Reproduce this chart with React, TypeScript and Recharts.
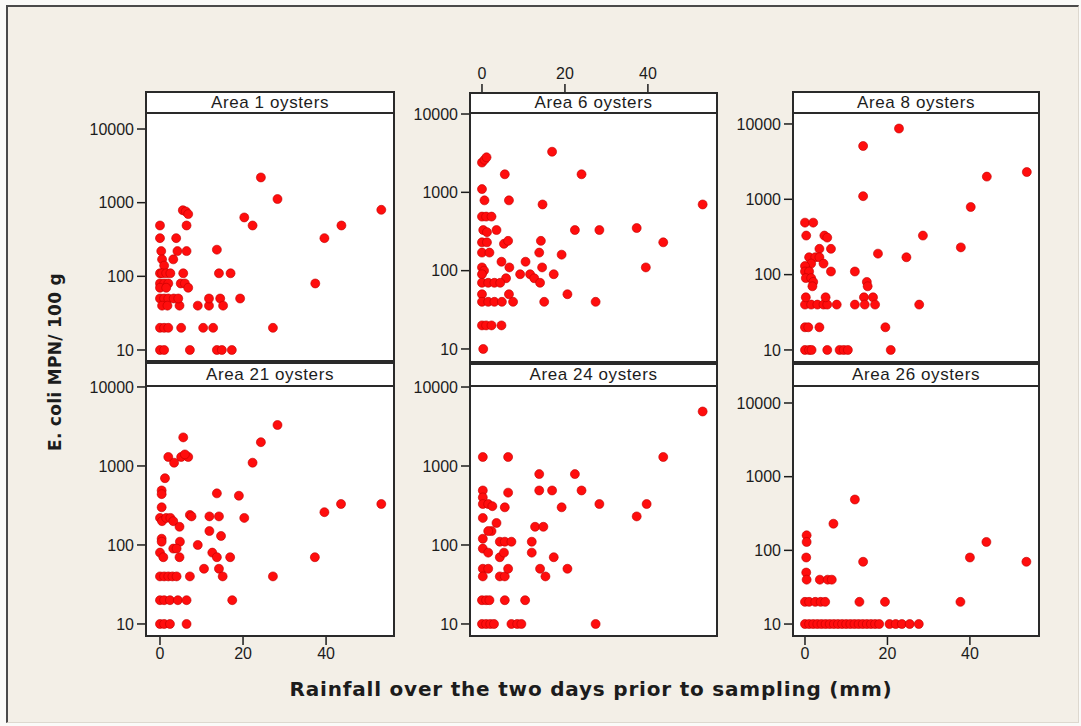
import React from "react";
import { ScatterChart, Scatter, XAxis, YAxis } from "recharts";

type Pt = [number, number];

// rainfall (mm), E. coli MPN / 100 g
const area1: Pt[] = [
  [0, 490], [0, 330], [0.3, 220], [0.5, 170], [1, 140], [0, 110], [0.5, 110], [1.5, 110], [2.5, 110],
  [0, 80], [1, 80], [2, 80], [0, 70], [1.5, 70], [0, 50], [1, 50], [2, 50], [0.5, 40], [1.8, 40],
  [0, 20], [1, 20], [2, 20], [0, 10], [1, 10], [3.9, 330], [3.2, 170], [4.2, 220], [6.4, 220],
  [5.6, 110], [5.5, 790], [6.2, 760], [6.8, 700], [6.4, 490], [5, 80], [6, 80], [6.8, 70], [4.7, 40],
  [3.3, 50], [4.4, 50], [5.1, 20], [7.2, 10], [9.1, 40], [11.8, 40], [11.8, 50], [14.5, 50], [15.2, 40],
  [12.8, 20], [10.4, 20], [13.7, 10], [14.9, 10], [17.3, 10], [13.7, 230], [14.2, 110], [17, 110],
  [19.3, 50], [20.3, 630], [22.3, 490], [24.3, 2200], [28.3, 1120], [53.3, 800], [43.7, 490],
  [39.6, 330], [37.4, 80], [27.2, 20],
];

const area6: Pt[] = [
  [16.9, 3300], [0, 2400], [0.6, 2600], [1.1, 2800], [5.5, 1700], [24, 1700], [0, 1100], [0.6, 790],
  [6.5, 790], [14.6, 700], [53.2, 700], [0, 490], [1, 490], [2.3, 490], [0.3, 330], [1.2, 310],
  [3.5, 330], [22.4, 330], [28.3, 330], [37.3, 350], [0, 230], [1.2, 230], [5.3, 220], [6.3, 240],
  [14.2, 240], [43.7, 230], [0, 170], [1.8, 170], [13.8, 170], [19.2, 160], [4.7, 130], [10.5, 130],
  [6.6, 110], [14.5, 110], [39.5, 110], [0, 110], [0.5, 100], [0, 90], [9.2, 90], [11.6, 90],
  [12.6, 80], [14, 70], [17.3, 90], [5.8, 80], [0, 70], [1.5, 70], [3, 70], [4.4, 70], [6.5, 50],
  [20.6, 50], [0, 50], [0, 40], [1.5, 40], [3, 40], [4.8, 40], [7.5, 40], [15, 40], [27.4, 40],
  [0, 20], [1, 20], [2.3, 20], [4.7, 20], [0.3, 10],
];

const area8: Pt[] = [
  [22.8, 8700], [14.1, 5100], [14.1, 1100], [44.1, 2000], [53.8, 2300], [40.2, 790], [28.6, 330],
  [37.8, 230], [17.7, 190], [24.6, 170], [27.7, 40], [19.5, 20], [20.8, 10], [12.1, 110], [15, 80],
  [15.2, 70], [14.3, 50], [16.5, 50], [14.5, 40], [17, 40], [12.1, 40], [7.7, 40], [0, 40], [1.5, 40],
  [3, 40], [4.5, 40], [5.4, 40], [0.2, 50], [5, 50], [0, 490], [2, 490], [0.3, 330], [4.7, 330],
  [5.4, 310], [3.5, 220], [6.3, 220], [1, 170], [2.5, 170], [3.5, 170], [1.5, 140], [0, 130],
  [4.5, 140], [6.3, 110], [0, 110], [1, 110], [0.2, 90], [1.5, 90], [2, 80], [1.8, 70], [0, 20],
  [0.8, 20], [3.5, 20], [0, 10], [1, 10], [1.6, 10], [5.4, 10], [8.4, 10], [9.4, 10], [10.4, 10],
];

const area21: Pt[] = [
  [28.3, 3300], [24.3, 2000], [22.3, 1100], [5.6, 2300], [2, 1300], [3.4, 1100], [5.1, 1300],
  [6.8, 1300], [6, 1400], [1.2, 700], [0.4, 490], [0.4, 440], [13.7, 450], [19, 420], [53.3, 330],
  [43.6, 330], [39.6, 260], [0.4, 300], [0, 220], [0.5, 200], [1.5, 220], [2.5, 220], [3.2, 200],
  [7.2, 240], [7.6, 230], [11.9, 230], [14.2, 230], [20.3, 220], [4.7, 170], [11.9, 150], [14.7, 130],
  [0.4, 120], [0.4, 110], [4.8, 110], [3.2, 90], [4, 90], [9.1, 100], [0, 80], [0.8, 70], [4.7, 70],
  [12.6, 80], [13.7, 70], [16.9, 70], [37.3, 70], [10.6, 50], [14.2, 50], [15.1, 40], [0, 40], [1, 40],
  [2, 40], [3, 40], [4, 40], [7.2, 40], [27.2, 40], [0, 20], [1, 20], [2.4, 20], [4.3, 20], [6.4, 20],
  [17.4, 20], [0, 10], [1, 10], [2.4, 10], [6.4, 10],
];

const area24: Pt[] = [
  [53.2, 4900], [43.7, 1300], [0.2, 1300], [6.3, 1300], [13.8, 790], [22.4, 790], [13.8, 490],
  [16.9, 490], [24, 490], [6.3, 460], [0.2, 490], [0.2, 400], [0.2, 330], [1.5, 330], [2.5, 310],
  [5.5, 300], [19.2, 300], [28.3, 330], [37.3, 230], [39.7, 330], [0.2, 220], [3.5, 190], [2.3, 150],
  [1.5, 150], [0.2, 120], [12.8, 170], [14.8, 170], [4.3, 110], [5.5, 110], [7.1, 110], [12, 110],
  [12, 80], [0.2, 90], [1.5, 80], [4.3, 70], [5.3, 80], [17.3, 70], [0.2, 50], [1.5, 50], [0.2, 40],
  [4.3, 40], [5.5, 40], [6.3, 50], [14, 50], [15.3, 40], [20.6, 50], [0, 20], [1, 20], [1.8, 20],
  [5.5, 20], [10.4, 20], [0, 10], [1, 10], [2, 10], [2.9, 10], [7.1, 10], [8.5, 10], [9.5, 10],
  [27.4, 10],
];

const area26: Pt[] = [
  [12.1, 490], [6.9, 230], [0.4, 160], [0.4, 130], [44, 130], [0.3, 80], [40, 80], [14.1, 70],
  [53.7, 70], [0.3, 50], [0.4, 40], [3.6, 40], [5.5, 40], [6.5, 40], [0, 20], [1, 20], [2.5, 20],
  [3.8, 20], [4.9, 20], [13.2, 20], [19.4, 20], [37.7, 20], [0, 10], [1, 10], [2, 10], [3, 10],
  [4, 10], [5, 10], [6, 10], [7, 10], [8, 10], [9, 10], [10, 10], [11, 10], [12, 10], [13, 10],
  [14, 10], [15, 10], [16, 10], [17, 10], [18, 10], [20.5, 10], [22, 10], [23.5, 10], [25.4, 10],
  [27.6, 10],
];

const RAIN_TICKS = [0, 20, 40];
const MPN_TICKS = [10, 100, 1000, 10000];

type Panel = {
  title: string;
  data: Pt[];
  left: number;
  top: number;
  width: number;
  height: number;
  headH: number;
  xDomain: [number, number];
  yDomain: [number, number];
  xAxis: "none" | "top" | "bottom";
};

const PANELS: Panel[] = [
  { title: "Area 1 oysters", data: area1, left: 145, top: 91, width: 250, height: 271, headH: 23, xDomain: [-3.61, 56.6], yDomain: [6.87, 32810], xAxis: "none" },
  { title: "Area 6 oysters", data: area6, left: 469, top: 92, width: 249, height: 271, headH: 22, xDomain: [-3.13, 56.9], yDomain: [6.62, 19100], xAxis: "top" },
  { title: "Area 8 oysters", data: area8, left: 792, top: 91, width: 248, height: 272, headH: 23, xDomain: [-3.15, 57.0], yDomain: [6.71, 27400], xAxis: "none" },
  { title: "Area 21 oysters", data: area21, left: 145, top: 362, width: 250, height: 275, headH: 25, xDomain: [-3.61, 56.6], yDomain: [6.84, 20700], xAxis: "bottom" },
  { title: "Area 24 oysters", data: area24, left: 469, top: 363, width: 249, height: 274, headH: 24, xDomain: [-3.13, 56.9], yDomain: [6.84, 20140], xAxis: "none" },
  { title: "Area 26 oysters", data: area26, left: 792, top: 363, width: 248, height: 274, headH: 24, xDomain: [-3.15, 57.0], yDomain: [6.67, 34900], xAxis: "bottom" },
];

const FONT = "'Liberation Sans', Arial, sans-serif";
const INK = "#1c1c1c";

const Dot = (props: any) => (
  <circle cx={props.cx} cy={props.cy} r={4.5} fill="#ff0d0d" stroke="#c00000" strokeWidth={0.6} />
);

function PanelChart({ p }: { p: Panel }) {
  const padL = 70, padT = 40, padR = 10, padB = 40;
  const isTop = p.xAxis === "top";
  const isBottom = p.xAxis === "bottom";
  const tick = { fontSize: 16, fill: INK, fontFamily: FONT };
  return (
    <>
      <div style={{ position: "absolute", left: p.left, top: p.top, width: p.width, height: p.height, background: "#fff" }} />
      <div style={{ position: "absolute", left: p.left - padL, top: p.top - padT }}>
        <ScatterChart
          width={p.width + padL + padR}
          height={p.height + padT + padB}
          margin={{ top: isTop ? padT - 30 : padT, right: padR, bottom: isBottom ? padB - 30 : padB, left: padL - 60 }}
        >
          <XAxis
            type="number"
            dataKey="x"
            domain={p.xDomain}
            ticks={RAIN_TICKS}
            allowDataOverflow
            hide={p.xAxis === "none"}
            orientation={isTop ? "top" : "bottom"}
            height={30}
            axisLine={false}
            tickLine={{ stroke: INK, strokeWidth: 1.5 }}
            tickSize={8}
            tickMargin={isTop ? 5 : 3}
            tick={tick}
          />
          <YAxis
            type="number"
            dataKey="y"
            scale="log"
            domain={p.yDomain}
            ticks={MPN_TICKS}
            allowDataOverflow
            width={60}
            axisLine={false}
            tickLine={{ stroke: INK, strokeWidth: 1.5 }}
            tickSize={8}
            tickMargin={3}
            tick={tick}
          />
          <Scatter data={p.data.map(([x, y]) => ({ x, y }))} shape={Dot} isAnimationActive={false} />
        </ScatterChart>
      </div>
      <div
        style={{
          position: "absolute", left: p.left, top: p.top, width: p.width, height: p.headH,
          boxSizing: "border-box", background: "#fff", border: "2px solid #2a2a2a",
          font: `17px ${FONT}`, letterSpacing: 0.6, color: INK, textAlign: "center",
          lineHeight: `${p.headH - 4}px`,
        }}
      >
        {p.title}
      </div>
      <div
        style={{
          position: "absolute", left: p.left, top: p.top, width: p.width, height: p.height,
          boxSizing: "border-box", border: "2px solid #2a2a2a", pointerEvents: "none",
        }}
      />
    </>
  );
}

export default function App() {
  return (
    <div style={{ position: "relative", width: 1081, height: 726, background: "#fafaf8", overflow: "hidden" }}>
      <style>{`body{margin:0}`}</style>
      <div
        style={{
          position: "absolute", left: 6, top: 5, width: 1073, height: 718, boxSizing: "border-box",
          background: "#f3efe7", borderLeft: "2px solid #4a4a4a", borderTop: "2px solid #4a4a4a",
          borderRight: "1px solid #ddd8cf", borderBottom: "1px solid #ddd8cf",
        }}
      />
      {PANELS.map((p) => (
        <PanelChart key={p.title} p={p} />
      ))}
      <div
        style={{
          position: "absolute", left: 591, top: 677, transform: "translateX(-50%)", whiteSpace: "nowrap",
          font: `bold 20px 'DejaVu Sans', sans-serif`, letterSpacing: 0.8, color: INK,
        }}
      >
        Rainfall over the two days prior to sampling (mm)
      </div>
      <div
        style={{
          position: "absolute", left: 55, top: 362, transform: "translate(-50%, -50%) rotate(-90deg)",
          whiteSpace: "nowrap", font: `bold 17px 'DejaVu Sans', sans-serif`, letterSpacing: 0.3, color: INK,
        }}
      >
        E. coli MPN/ 100 g
      </div>
    </div>
  );
}
